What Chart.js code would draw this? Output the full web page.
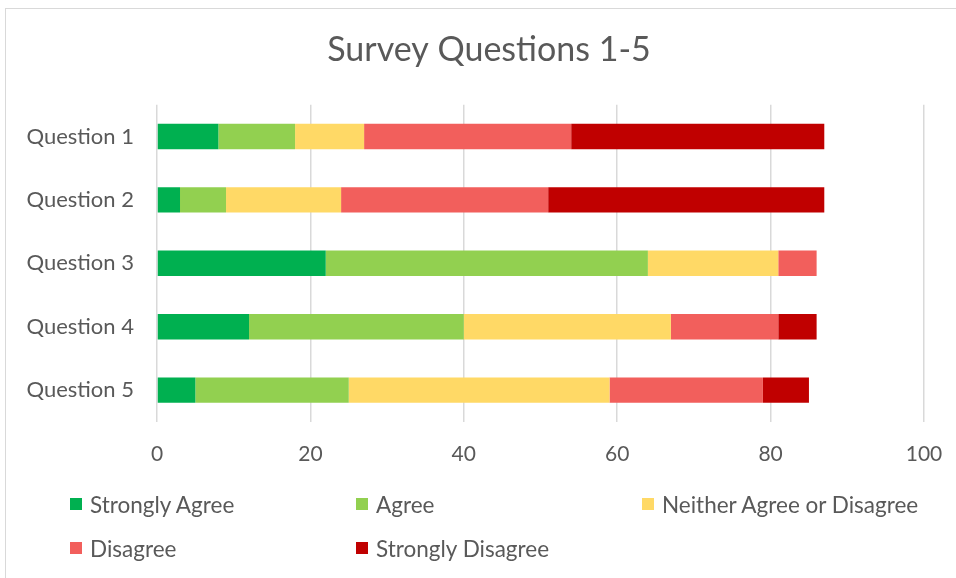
<!DOCTYPE html>
<html>
<head>
<meta charset="utf-8">
<script src="https://cdn.jsdelivr.net/npm/chart.js@4/dist/chart.umd.min.js"></script>
<style>
  body { margin: 0; background: #fff; font-family: Lato, sans-serif; overflow: hidden; }
  #frame { position: absolute; left: 5px; top: 8px; width: 1000px; height: 640px; border: 1px solid #d9d9d9; }
  #wrap { position: absolute; left: 0; top: 0; width: 956px; height: 578px; }
  #legend { position: absolute; left: 70px; top: 490px; display: grid; grid-template-columns: 286px 286px 286px; row-gap: 16px; }
  .item { display: flex; align-items: center; height: 28px; color: #595959; font-size: 22.5px; }
  .box { width: 12px; height: 12px; margin-right: 8px; flex: none; }
</style>
</head>
<body>
<div id="frame"></div>
<div id="wrap"><canvas id="myChart"></canvas></div>
<div id="legend"></div>
<script>
const questions = ["Question 1", "Question 2", "Question 3", "Question 4", "Question 5"];
const stronglyAgree = [8, 3, 22, 12, 5];
const agree = [10, 6, 42, 28, 20];
const neither = [9, 15, 17, 27, 34];
const disagree = [27, 27, 5, 14, 20];
const stronglyDisagree = [33, 36, 0, 5, 6];
const xTicks = [0, 20, 40, 60, 80, 100];

const seriesNames = ["Strongly Agree", "Agree", "Neither Agree or Disagree", "Disagree", "Strongly Disagree"];
const seriesData = [stronglyAgree, agree, neither, disagree, stronglyDisagree];
const seriesColors = ["#00B050", "#92D050", "#FFD966", "#F25F5C", "#C00000"];

const textColor = "#595959";

// nudge the title box right so it sits over the whole frame, not just the plot
const titleShift = {
  id: "titleShift",
  afterLayout(c) {
    c.titleBlock.left += 27;
    c.titleBlock.right += 27;
  },
};

const ctx = document.getElementById("myChart");

const chart = new Chart(ctx, {
  type: "bar",
  data: {
    labels: questions,
    datasets: seriesNames.map((name, i) => ({
      label: name,
      data: seriesData[i],
      backgroundColor: seriesColors[i],
      borderWidth: 0,
      barPercentage: 0.4,
      categoryPercentage: 1,
    })),
  },
  options: {
    indexAxis: "y",
    responsive: true,
    maintainAspectRatio: false,
    animation: false,
    layout: {
      padding: { left: 0, right: 32, top: 0, bottom: 91 },
    },
    scales: {
      x: {
        stacked: true,
        min: xTicks[0],
        max: xTicks[xTicks.length - 1],
        afterBuildTicks: (axis) => {
          axis.ticks = xTicks.map((v) => ({ value: v }));
        },
        afterFit: (axis) => {
          axis.paddingLeft = 0;
          axis.paddingRight = 0;
        },
        grid: { color: "#d9d9d9", lineWidth: 1.5, drawTicks: false },
        border: { display: false },
        ticks: {
          color: textColor,
          padding: 20,
          font: { family: "Lato", size: 21 },
        },
      },
      y: {
        stacked: true,
        grid: { display: false },
        border: { display: false },
        afterFit: (axis) => {
          axis.width = 157;
        },
        ticks: {
          color: textColor,
          padding: 15,
          font: { family: "Lato", size: 22 },
        },
      },
    },
    plugins: {
      legend: { display: false },
      tooltip: { enabled: false },
      title: {
        display: true,
        text: "Survey Questions 1-5",
        color: textColor,
        font: { family: "Lato", size: 34, weight: "normal" },
        padding: { top: 30, bottom: 34 },
      },
    },
  },
  plugins: [titleShift],
});

// legend laid out in three columns under the chart
const legend = document.getElementById("legend");
chart.data.datasets.forEach((ds) => {
  const item = document.createElement("div");
  item.className = "item";
  item.innerHTML = `<span class="box" style="background:${ds.backgroundColor}"></span>${ds.label}`;
  legend.appendChild(item);
});
</script>
</body>
</html>
